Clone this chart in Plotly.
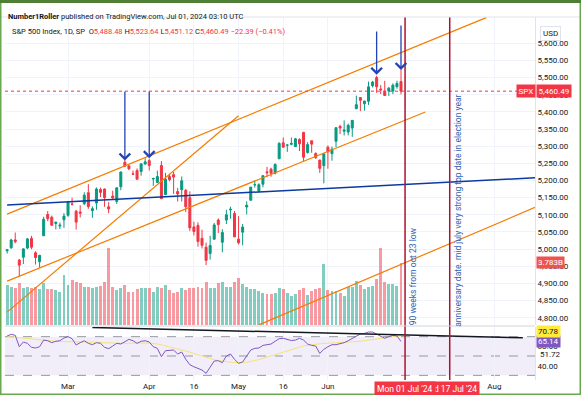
import plotly.graph_objects as go
import pandas as pd

# ---------------- data ----------------
dates = ["2024-02-08","2024-02-09","2024-02-12","2024-02-13","2024-02-14","2024-02-15","2024-02-16","2024-02-20","2024-02-21","2024-02-22",
         "2024-02-23","2024-02-26","2024-02-27","2024-02-28","2024-02-29",
         "2024-03-01","2024-03-04","2024-03-05","2024-03-06","2024-03-07","2024-03-08","2024-03-11","2024-03-12","2024-03-13","2024-03-14",
         "2024-03-15","2024-03-18","2024-03-19","2024-03-20","2024-03-21","2024-03-22","2024-03-25","2024-03-26","2024-03-27","2024-03-28",
         "2024-04-01","2024-04-02","2024-04-03","2024-04-04","2024-04-05","2024-04-08","2024-04-09","2024-04-10","2024-04-11","2024-04-12",
         "2024-04-15","2024-04-16","2024-04-17","2024-04-18","2024-04-19","2024-04-22","2024-04-23","2024-04-24","2024-04-25","2024-04-26",
         "2024-04-29","2024-04-30",
         "2024-05-01","2024-05-02","2024-05-03","2024-05-06","2024-05-07","2024-05-08","2024-05-09","2024-05-10","2024-05-13","2024-05-14",
         "2024-05-15","2024-05-16","2024-05-17","2024-05-20","2024-05-21","2024-05-22","2024-05-23","2024-05-24","2024-05-28","2024-05-29",
         "2024-05-30","2024-05-31",
         "2024-06-03","2024-06-04","2024-06-05","2024-06-06","2024-06-07","2024-06-10","2024-06-11","2024-06-12","2024-06-13","2024-06-14",
         "2024-06-17","2024-06-18","2024-06-20","2024-06-21","2024-06-24","2024-06-25","2024-06-26","2024-06-27","2024-06-28"]

opens = [4995.16,5004.17,5026.83,4967.94,4976.44,5003.14,5031.13,4989.32,4963.03,5038.83,
         5100.92,5093.00,5074.60,5067.20,5085.36,
         5098.51,5130.99,5110.52,5108.03,5132.38,5164.46,5111.96,5134.30,5173.49,5175.14,
         5123.31,5154.77,5139.09,5181.69,5253.43,5242.48,5219.52,5228.85,5226.31,5248.03,
         5257.97,5204.29,5194.37,5244.05,5158.95,5211.37,5217.03,5167.88,5172.95,5171.51,
         5149.67,5064.59,5068.97,5031.52,5005.44,4987.33,5028.85,5084.86,5019.88,5084.65,
         5114.13,5103.78,
         5029.03,5049.32,5122.78,5142.42,5187.20,5168.98,5189.03,5225.49,5233.08,5221.10,
         5263.26,5310.07,5303.10,5305.35,5298.69,5319.28,5340.26,5281.45,5315.91,5278.73,
         5259.77,5243.21,
         5297.15,5278.24,5314.48,5357.80,5343.81,5341.22,5353.00,5409.13,5441.93,5424.08,
         5431.11,5476.15,5499.99,5466.77,5459.58,5460.73,5460.71,5473.59,5488.48]
highs = [5000.40,5030.06,5048.39,4971.30,5002.52,5032.72,5038.70,4993.71,4983.21,5094.39,
         5111.06,5097.66,5080.69,5077.37,5104.99,
         5140.33,5149.67,5114.54,5127.97,5165.62,5189.26,5124.66,5179.87,5179.14,5176.85,
         5136.86,5170.28,5180.31,5226.19,5261.10,5246.09,5229.09,5235.16,5249.26,5264.85,
         5263.95,5208.34,5228.75,5256.59,5222.18,5219.57,5224.81,5178.43,5211.78,5175.03,
         5168.43,5079.84,5077.96,5056.66,5019.02,5038.84,5076.12,5089.48,5057.75,5114.62,
         5123.49,5110.83,
         5096.12,5073.21,5139.12,5181.00,5200.23,5191.95,5215.30,5239.66,5237.26,5250.37,
         5311.76,5325.49,5305.45,5325.32,5324.32,5323.18,5341.88,5311.65,5315.91,5282.27,
         5260.21,5280.33,
         5302.11,5298.80,5354.16,5362.35,5375.08,5365.79,5375.95,5447.25,5441.93,5432.39,
         5488.50,5490.38,5505.53,5478.31,5490.66,5472.88,5483.14,5490.81,5523.64]
lows = [4987.09,5000.34,5016.83,4920.31,4956.21,4999.44,4999.52,4955.02,4946.00,5038.83,
        5081.46,5068.91,5057.29,5058.35,5061.89,
        5094.16,5127.18,5056.82,5092.22,5128.21,5117.50,5091.14,5114.48,5151.88,5123.30,
        5104.35,5146.04,5131.59,5171.55,5240.66,5229.87,5216.09,5203.42,5213.92,5245.82,
        5229.20,5184.05,5194.37,5146.06,5157.21,5197.35,5160.78,5138.70,5138.77,5107.94,
        5052.47,5039.83,5007.25,5001.89,4953.56,4969.40,5027.96,5047.02,4990.58,5073.14,
        5088.65,5035.31,
        5013.45,5011.05,5101.22,5142.42,5178.96,5165.86,5180.41,5209.68,5211.16,5217.98,
        5263.26,5296.19,5283.59,5302.40,5297.87,5286.01,5256.93,5278.39,5280.89,5262.70,
        5222.10,5191.68,
        5234.32,5257.63,5297.64,5335.36,5331.33,5331.52,5327.25,5409.13,5402.51,5403.75,
        5420.40,5471.32,5455.56,5452.03,5447.59,5446.56,5451.87,5467.54,5451.12]
closes = [4997.91,5026.61,5021.84,4953.17,5000.62,5029.73,5005.57,4975.51,4981.80,5087.03,
          5088.80,5069.53,5078.18,5069.76,5096.27,
          5137.08,5130.95,5078.65,5104.76,5157.36,5123.69,5117.94,5175.27,5165.31,5150.48,
          5117.09,5149.42,5178.51,5224.62,5241.53,5234.18,5218.19,5203.58,5248.49,5254.35,
          5243.77,5205.81,5211.49,5147.21,5204.34,5202.39,5209.91,5160.64,5199.06,5123.41,
          5061.82,5051.41,5022.21,5011.12,4967.23,5010.60,5070.55,5071.63,5048.42,5099.96,
          5116.17,5035.69,
          5018.39,5064.20,5127.79,5180.74,5187.70,5187.67,5214.08,5222.68,5221.42,5246.68,
          5308.15,5297.10,5303.27,5308.13,5321.41,5307.01,5267.84,5304.72,5306.04,5266.95,
          5235.48,5277.51,
          5283.40,5291.34,5354.03,5352.96,5346.99,5360.79,5375.32,5421.03,5433.74,5431.60,
          5473.23,5487.03,5473.17,5464.62,5447.87,5469.30,5477.90,5482.87,5460.49]

volume_bn = [2.44,2.30,2.24,2.54,2.24,2.34,2.24,2.34,2.20,2.54,
             2.20,2.18,2.13,2.03,3.05,2.44,2.74,2.60,2.54,2.34,
             2.30,2.24,2.30,2.38,2.60,4.67,2.34,2.13,2.24,2.44,
             2.03,2.03,2.18,2.24,2.28,2.24,2.03,2.30,2.24,2.44,
             2.13,1.97,2.03,2.24,2.13,2.24,2.28,2.30,2.24,
             2.64,2.24,2.24,2.54,2.64,2.34,2.30,2.64,2.85,2.50,
             2.30,2.18,2.18,2.09,1.93,1.89,1.89,1.97,2.24,2.18,
             1.93,1.77,1.87,2.13,2.24,1.83,2.09,2.18,2.24,3.72,
             2.13,2.07,2.09,1.97,1.77,2.34,2.34,2.68,2.44,2.18,
             2.34,2.38,2.78,4.67,2.64,2.50,2.48,2.38,3.783]

rsi = [70.7,72.4,71.4,59.6,64.5,63.1,59.0,58.3,59.6,66.5,
       65.8,63.8,65.2,65.8,68.6,70.0,67.9,61.4,63.8,65.8,
       63.1,61.7,63.8,63.1,59.0,57.6,60.3,63.1,62.4,65.2,
       67.2,65.8,63.1,65.2,65.8,64.5,59.6,57.9,49.3,55.5,
       55.5,56.2,52.1,54.1,46.6,41.0,38.9,37.2,35.5,32.1,
       38.9,44.8,45.2,43.1,50.0,52.1,46.6,42.4,43.8,50.0,
       56.2,57.9,58.3,61.0,61.4,62.4,65.2,67.9,68.3,67.2,
       66.0,66.5,68.3,66.5,62.4,61.0,60.3,52.7,56.9,59.6,
       61.7,61.7,62.4,63.8,65.8,68.3,70.7,72.8,73.4,74.8,
       74.8,72.8,70.7,68.3,70.0,71.4,70.7,65.14]
rsi_ma = [70.0,70.0,69.5,69.0,68.5,68.0,67.5,67.0,66.5,66.2,
          66.0,65.5,65.2,65.0,65.0,65.0,64.8,64.6,64.5,64.4,
          64.3,64.2,64.0,63.8,63.6,63.4,63.2,63.0,63.0,63.0,
          63.2,63.4,63.4,63.5,63.5,63.3,63.0,62.5,61.5,60.5,
          59.5,58.5,57.5,56.5,55.3,54.0,52.6,51.2,49.8,48.4,
          47.2,46.2,45.3,44.5,44.0,43.6,43.3,43.1,43.2,43.6,
          44.3,45.2,46.3,47.5,48.8,50.2,51.6,53.0,54.5,56.0,
          57.3,58.5,59.5,60.4,61.2,61.8,62.3,62.7,63.0,63.2,
          63.4,63.5,63.7,63.8,64.0,64.3,64.7,65.2,65.8,66.5,
          67.2,67.9,68.5,69.0,69.5,70.0,70.4,70.78]

# drawings: (start date, start value, end date, end value)
orange_lines = [("2024-02-08", 5102.0, "2024-07-30", 5675.0),
                ("2024-02-08", 4906.7, "2024-07-09", 5399.7),
                ("2024-02-08", 4816.3, "2024-05-01", 5388.9),
                ("2024-05-08", 4779.0, "2024-08-15", 5121.6)]
blue_line = ("2024-02-08", 5128.9, "2024-08-15", 5208.0)
rsi_trend = ("2024-03-11", 79.5, "2024-08-12", 68.8)
# arrows: (date, tip price, tail price)
arrows = [("2024-03-21", 5258, 5464), ("2024-04-01", 5265, 5464),
          ("2024-06-20", 5508, 5639), ("2024-06-28", 5522, 5656)]
marker_dates = ["2024-07-01", "2024-07-17"]
marker_labels = ["Mon 01 Jul '24", "Wed 17 Jul '24"]
marker_notes = ["90 weeks from oct 23 low",
                "anniversary date. mid july very strong top date in election year"]
note_levels = [4921, 5111]
tick_dates = ["2024-03-01", "2024-04-01", "2024-04-16", "2024-05-01", "2024-05-16", "2024-06-03", "2024-08-01"]
tick_text = ["Mar", "Apr", "16", "May", "16", "Jun", "Aug"]
price_ticks = list(range(4800, 5601, 50))

# ------------- trading-day calendar -------------
future = [d for d in pd.bdate_range("2024-07-01", "2024-08-30") if d != pd.Timestamp("2024-07-04")]
calendar = [pd.Timestamp(d) for d in dates] + list(future)
pos = {d: i for i, d in enumerate(calendar)}
def X(s):
    return pos[pd.Timestamp(s)]
xi = list(range(len(dates)))

GREEN = "#089981"
RED = "#f23645"
FONT = "Roboto"

W, H = 581, 395
ML, MR, MT, MB = 5, 46, 17, 15
PH = H - MT - MB
PW = W - ML - MR
def py(p):
    return (H - MB - p) / PH

fig = go.Figure()

vol_colors = ["rgba(8,153,129,0.5)" if c >= o else "rgba(242,54,69,0.5)" for o, c in zip(opens, closes)]
fig.add_trace(go.Bar(x=xi, y=volume_bn, marker=dict(color=vol_colors, line=dict(width=0)),
                     width=0.72, yaxis="y2", hoverinfo="skip", showlegend=False))
fig.add_trace(go.Candlestick(x=xi, open=opens, high=highs, low=lows, close=closes,
                             increasing=dict(line=dict(color=GREEN, width=1), fillcolor=GREEN),
                             decreasing=dict(line=dict(color=RED, width=1), fillcolor=RED),
                             whiskerwidth=0, hoverinfo="skip", showlegend=False, yaxis="y"))
fig.add_trace(go.Scatter(x=xi, y=rsi_ma, mode="lines", line=dict(color="#f5e27a", width=1),
                         yaxis="y3", hoverinfo="skip", showlegend=False))
fig.add_trace(go.Scatter(x=xi, y=rsi, mode="lines", line=dict(color="#7e57c2", width=1),
                         yaxis="y3", hoverinfo="skip", showlegend=False))

shapes = []
# RSI band
shapes.append(dict(type="rect", xref="x domain", yref="y3", x0=0, x1=1, y0=30, y1=70,
                   fillcolor="rgba(126,87,194,0.1)", line=dict(width=0), layer="below"))
for lv in (70, 50, 30):
    shapes.append(dict(type="line", xref="x domain", yref="y3", x0=0, x1=1, y0=lv, y1=lv,
                       line=dict(color="#9598a1", width=1, dash="dash"), layer="below"))
for d0, v0, d1, v1 in orange_lines:
    shapes.append(dict(type="line", xref="x", yref="y", x0=X(d0), y0=v0, x1=X(d1), y1=v1,
                       line=dict(color="#f57c00", width=1.2)))
d0, v0, d1, v1 = blue_line
shapes.append(dict(type="line", xref="x", yref="y", x0=X(d0), y0=v0, x1=X(d1), y1=v1,
                   line=dict(color="#0d3a9e", width=1.5)))
d0, v0, d1, v1 = rsi_trend
shapes.append(dict(type="line", xref="x", yref="y3", x0=X(d0), y0=v0, x1=X(d1), y1=v1,
                   line=dict(color="#131722", width=1.5)))
# last price dotted line
shapes.append(dict(type="line", xref="x domain", yref="y", x0=0, x1=1, y0=closes[-1], y1=closes[-1],
                   line=dict(color=RED, width=1, dash="dot")))
# red vertical markers
for d in marker_dates:
    shapes.append(dict(type="line", xref="x", yref="paper", x0=X(d), x1=X(d), y0=0, y1=1,
                       line=dict(color="#b0102f", width=1.5)))
# pane separators and borders
shapes.append(dict(type="line", xref="paper", yref="paper", x0=0, x1=1, y0=py(326), y1=py(326),
                   line=dict(color="#d1d4dc", width=1)))
shapes.append(dict(type="line", xref="paper", yref="paper", x0=-ML / PW, x1=1 + MR / PW, y0=1, y1=1,
                   line=dict(color="#e0e3eb", width=1)))
# outer green frame
shapes.append(dict(type="rect", xref="paper", yref="paper", x0=-ML / PW, x1=1 + MR / PW,
                   y0=-MB / PH, y1=1 + MT / PH, line=dict(color="#6aa84f", width=3)))
shapes.append(dict(type="line", xref="paper", yref="paper", x0=-ML / PW, x1=1 + MR / PW,
                   y0=py(1.5), y1=py(1.5), line=dict(color="#4f7f35", width=3)))

ann = []
for d, tip, tail in arrows:
    ann.append(dict(x=X(d), y=tip, xref="x", yref="y", ax=X(d), ay=tail, axref="x", ayref="y",
                    showarrow=True, arrowhead=4, arrowsize=1.6, arrowwidth=1.3, arrowcolor="#2443b5", text=""))
# vertical notes
for d, t, lv in zip(marker_dates, marker_notes, note_levels):
    ann.append(dict(x=X(d), y=lv, xref="x", yref="y", xshift=8, text=t,
                    textangle=-90, showarrow=False, font=dict(family=FONT, size=8.5, color="#2f5fb3")))
# date labels at bottom
for d, t in list(zip(marker_dates, marker_labels))[::-1]:
    ann.append(dict(x=X(d), y=0, xref="x", yref="paper", yanchor="top", yshift=-1, text=t,
                    showarrow=False, bgcolor=RED, borderpad=2,
                    font=dict(family=FONT, size=8.5, color="white")))
# header
ann.append(dict(x=0, y=py(10), xref="paper", yref="paper", xanchor="left", xshift=1, showarrow=False,
                text="<b>Number1Roller</b> published on TradingView.com, Jul 01, 2024 03:10 UTC",
                font=dict(family=FONT, size=7.5, color="#131722")))
hdr = ("S&P 500 Index, 1D, SP  O<span style='color:#f23645'>5,488.48</span> "
       "H<span style='color:#f23645'>5,523.64</span> L<span style='color:#f23645'>5,451.12</span> "
       "C<span style='color:#f23645'>5,460.49</span> <span style='color:#f23645'>\u221222.39 (\u22120.41%)</span>")
ann.append(dict(x=0, y=py(25), xref="paper", yref="paper", xanchor="left", xshift=5, showarrow=False,
                text=hdr, font=dict(family=FONT, size=7.5, color="#131722")))
# right labels
ann.append(dict(x=1, y=py(26), xref="paper", yref="paper", xanchor="left", xshift=5, showarrow=False,
                text="USD", bordercolor="#e0e3eb", borderwidth=1, borderpad=2, bgcolor="white",
                font=dict(family=FONT, size=8, color="#131722")))
ann.append(dict(x=1, y=closes[-1], xref="paper", yref="y", xanchor="left", xshift=1, showarrow=False,
                text="5,460.49", bgcolor=RED, borderpad=1.5, font=dict(family=FONT, size=8, color="white")))
ann.append(dict(x=1, y=closes[-1], xref="paper", yref="y", xanchor="right", xshift=1, showarrow=False,
                text="SPX", bgcolor=RED, borderpad=1.5, font=dict(family=FONT, size=8, color="white")))
ann.append(dict(x=1, y=volume_bn[-1], xref="paper", yref="y2", xanchor="left", xshift=1, showarrow=False,
                text="3.783B", bgcolor="#ef5350", borderpad=1, font=dict(family=FONT, size=8, color="white")))
ann.append(dict(x=1, y=51.72, xref="paper", yref="y3", xanchor="left", xshift=3, showarrow=False,
                text="51.72", font=dict(family=FONT, size=8, color="#131722")))
ann.append(dict(x=1, y=rsi[-1], xref="paper", yref="y3", xanchor="left", xshift=1, showarrow=False,
                text="65.14", bgcolor="#7e57c2", borderpad=1, font=dict(family=FONT, size=8, color="white")))
ann.append(dict(x=1, y=rsi_ma[-1], xref="paper", yref="y3", xanchor="left", xshift=1, yshift=4, showarrow=False,
                text="70.78", bgcolor="#ffeb3b", borderpad=1, font=dict(family=FONT, size=8, color="#131722")))

tickfont = dict(family=FONT, size=8, color="#131722")
fig.update_layout(
    width=W, height=H, margin=dict(l=ML, r=MR, t=MT, b=MB),
    paper_bgcolor="white", plot_bgcolor="white", showlegend=False, bargap=0,
    xaxis=dict(range=[-0.52, 130.0], domain=[0, 1], anchor="y3", rangeslider=dict(visible=False),
               tickvals=[X(d) for d in tick_dates], ticktext=tick_text, tickfont=tickfont,
               showgrid=True, gridcolor="#f0f3fa", zeroline=False, ticks="", showline=False),
    yaxis=dict(domain=[py(325), 1], range=[4778.7, 5676.7], side="right", tickvals=price_ticks,
               tickformat=",.2f", tickfont=tickfont, showgrid=True, gridcolor="#f0f3fa",
               zeroline=False, showline=True, linecolor="#e0e3eb", ticks=""),
    yaxis2=dict(overlaying="y", range=[0, 18.79], visible=False),
    yaxis3=dict(domain=[0, py(327)], range=[25.2, 80], side="right", tickvals=[40, 60],
                tickformat=".2f", tickfont=tickfont, showgrid=False, zeroline=False,
                showline=True, linecolor="#e0e3eb", ticks=""),
    shapes=shapes, annotations=ann,
)
fig.write_html("out.html", config={"displayModeBar": False},
               post_script="document.body.style.margin='0px';document.body.style.overflow='hidden';")
